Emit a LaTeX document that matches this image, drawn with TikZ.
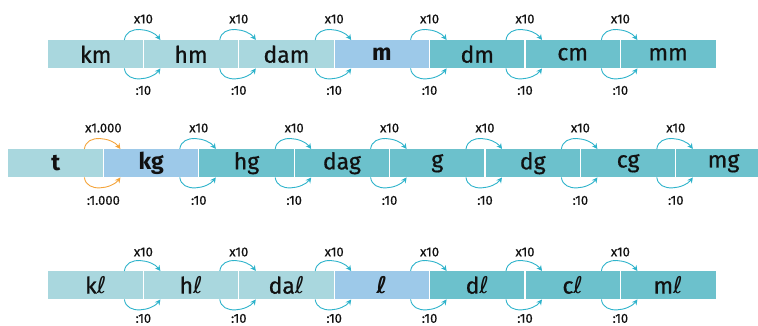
\documentclass[tikz,border=0pt]{standalone}
\usepackage{fontspec}
\setmainfont{Fira Sans}[UprightFeatures={FakeBold=0.6}]
\newfontfamily\dvs{DejaVu Sans}
\usetikzlibrary{arrows.meta}
\definecolor{cLight}{HTML}{A9D7DE}
\definecolor{cBlue}{HTML}{9DC9E9}
\definecolor{cTeal}{HTML}{6CC1CC}
\definecolor{cArc}{HTML}{2EB3CB}
\definecolor{cOrange}{HTML}{F4A43A}
\definecolor{cText}{HTML}{111111}
\newcommand\ltr{{\dvs ℓ}}
% #1 node, #2 top label, #3 bottom label, #4 style, #5 top offset, #6 bottom offset
\newcommand\convpair[6]{%
  \draw[#4] ([xshift=-19pt]#1.north east) .. controls +(2,-16) and +(-8,-11) .. ([xshift=17pt]#1.north east);
  \draw[#4] ([xshift=-19pt]#1.south east) .. controls +(2,16) and +(-8,11) .. ([xshift=17pt]#1.south east);
  \node[lab] (#1-up) at ([yshift=#5pt]#1.north east) {#2};
  \node[lab] (#1-dn) at ([yshift=-#6pt]#1.south east) {#3};
}
\newcommand\sepline[1]{\draw[sepl] (#1.north east) -- (#1.south east);}
\begin{document}
\begin{tikzpicture}[x=1pt,y=-1pt,
  cell/.style={rectangle, minimum width=95pt, minimum height=28pt, inner sep=0pt,
    anchor=north west, text=cText, font=\fontsize{23}{25}\selectfont},
  light/.style={cell, fill=cLight},
  blue/.style={cell, fill=cBlue, font=\fontsize{23}{25}\selectfont\bfseries},
  teal/.style={cell, fill=cTeal},
  sepl/.style={draw=white, line width=1.3pt},
  conv/.style={draw=cArc, line width=0.9pt, -{Stealth[length=5.5pt,width=5.5pt]}},
  convO/.style={conv, draw=cOrange},
  lab/.style={font=\fontsize{13}{15}\selectfont, text=cText, inner sep=0pt}
]
\useasboundingbox (0,0) rectangle (758,325);
\path[clip] (0,0) rectangle (758,325);
% row 1
\node[light] (a1) at (48,40) {km};
\node[light] (a2) at (a1.north east) {hm};
\node[light] (a3) at (a2.north east) {dam};
\node[blue]  (a4) at (a3.north east) {m};
\node[teal]  (a5) at (a4.north east) {dm};
\node[teal]  (a6) at (a5.north east) {cm};
\node[teal]  (a7) at (a6.north east) {mm};
% row 2
\node[light, font=\fontsize{23}{25}\selectfont\bfseries] (b1) at (8,149) {t};
\node[blue]  (b2) at (b1.north east) {kg};
\node[teal]  (b3) at (b2.north east) {hg};
\node[teal]  (b4) at (b3.north east) {dag};
\node[teal]  (b5) at (b4.north east) {g};
\node[teal]  (b6) at (b5.north east) {dg};
\node[teal]  (b7) at (b6.north east) {cg};
\node[teal]  (b8) at (b7.north east) {mg};
% row 3
\node[light] (c1) at (48,271) {k\ltr};
\node[light] (c2) at (c1.north east) {h\ltr};
\node[light] (c3) at (c2.north east) {da\ltr};
\node[blue]  (c4) at (c3.north east) {\ltr};
\node[teal]  (c5) at (c4.north east) {d\ltr};
\node[teal]  (c6) at (c5.north east) {c\ltr};
\node[teal]  (c7) at (c6.north east) {m\ltr};
% separators
\foreach \n in {a1,a2,a3,a4,a5,a6,b1,b2,b3,b4,b5,b6,b7,c1,c2,c3,c4,c5,c6} {\sepline{\n}}
% conversion arrows
\foreach \n in {a1,a2,a3,a4,a5,a6} {\convpair{\n}{x10}{:10}{conv}{21}{22}}
\foreach \n in {b2,b3,b4,b5,b6,b7} {\convpair{\n}{x10}{:10}{conv}{21}{23}}
\foreach \n in {c1,c2,c3,c4,c5,c6} {\convpair{\n}{x10}{:10}{conv}{19}{19}}
\convpair{b1}{x1.000}{:1.000}{convO}{21}{23}
\end{tikzpicture}
\end{document}
